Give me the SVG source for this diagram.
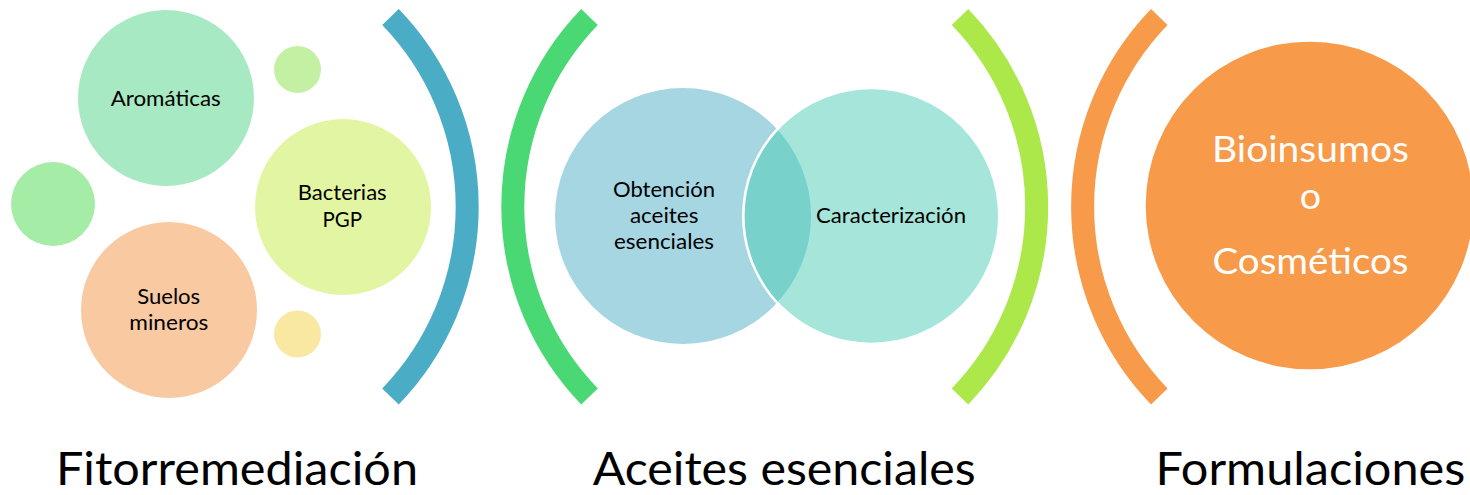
<svg xmlns="http://www.w3.org/2000/svg" width="1470" height="495" viewBox="0 0 1470 495">
  <style>
    .t { font-family: Lato, "Noto Sans", "Liberation Sans", sans-serif; fill: #000000; text-anchor: middle; }
    .s { font-size: 21.6px; }
    .big { font-size: 37.6px; fill: #ffffff; }
    .lbl { font-size: 46px; }
    .br { fill: none; stroke-width: 23; stroke-linecap: butt; }
  </style>
  <rect width="1470" height="495" fill="#ffffff"/>

  <g id="brackets">
    <path class="br" stroke="#4BACC6" d="M390.5,17 A273,273 0 0 1 390.5,396.4"/>
    <path class="br" stroke="#4AD874" d="M589.5,17 A273,273 0 0 0 589.5,396.4"/>
    <path class="br" stroke="#ACE84A" d="M960,17 A273,273 0 0 1 960,396.4"/>
    <path class="br" stroke="#F79A4A" d="M1159.3,17 A273,273 0 0 0 1159.3,396.4"/>
  </g>

  <g id="fitorremediacion">
    <g id="node-aromaticas">
      <circle cx="166" cy="98" r="88" fill="#A6E9C3"/>
      <text class="t s" x="165.7" y="106" textLength="110" lengthAdjust="spacingAndGlyphs">Aromáticas</text>
    </g>
    <g id="node-dot-top">
      <circle cx="297.5" cy="69.5" r="23.5" fill="#C4F0A4"/>
    </g>
    <g id="node-dot-left">
      <circle cx="53" cy="204" r="42" fill="#A5EDA7"/>
    </g>
    <g id="node-bacterias">
      <circle cx="343" cy="207" r="88" fill="#E2F5A2"/>
      <text class="t s" x="342.2" y="200" textLength="89" lengthAdjust="spacingAndGlyphs">Bacterias</text>
      <text class="t s" x="342.2" y="226.7" textLength="39.5" lengthAdjust="spacingAndGlyphs">PGP</text>
    </g>
    <g id="node-suelos">
      <circle cx="169" cy="310" r="88" fill="#F9C9A2"/>
      <text class="t s" x="168.7" y="304" textLength="63" lengthAdjust="spacingAndGlyphs">Suelos</text>
      <text class="t s" x="168.8" y="330" textLength="79" lengthAdjust="spacingAndGlyphs">mineros</text>
    </g>
    <g id="node-dot-bottom">
      <circle cx="297.5" cy="334" r="23.5" fill="#F8E8A2"/>
    </g>
    <g id="label-fitorremediacion">
      <text class="t lbl" x="237" y="485" textLength="362" lengthAdjust="spacingAndGlyphs">Fitorremediación</text>
    </g>
  </g>

  <g id="aceites">
    <g id="node-obtencion">
      <circle cx="683" cy="216" r="128" fill="#A6D6E2"/>
      <text class="t s" x="664" y="196.7" textLength="102" lengthAdjust="spacingAndGlyphs">Obtención</text>
      <text class="t s" x="664.2" y="222.7" textLength="68.5" lengthAdjust="spacingAndGlyphs">aceites</text>
      <text class="t s" x="664" y="249.3" textLength="100" lengthAdjust="spacingAndGlyphs">esenciales</text>
    </g>
    <g id="node-caracterizacion">
      <circle cx="871.3" cy="216" r="128" fill="#4CCBB5" fill-opacity="0.5" stroke="#ffffff" stroke-width="2.6"/>
      <text class="t s" x="891" y="222.7" textLength="150" lengthAdjust="spacingAndGlyphs">Caracterización</text>
    </g>
    <g id="label-aceites">
      <text class="t lbl" x="784.2" y="485" textLength="383" lengthAdjust="spacingAndGlyphs">Aceites esenciales</text>
    </g>
  </g>

  <g id="formulaciones">
    <g id="node-bioinsumos">
      <circle cx="1309.5" cy="205.5" r="163.8" fill="#F79A4A"/>
      <text class="t big" x="1310.5" y="162.3" textLength="197" lengthAdjust="spacingAndGlyphs">Bioinsumos</text>
      <text class="t big" x="1310.5" y="209.3">o</text>
      <text class="t big" x="1310.5" y="274" textLength="196" lengthAdjust="spacingAndGlyphs">Cosméticos</text>
    </g>
    <g id="label-formulaciones">
      <text class="t lbl" x="1310.4" y="485" textLength="310" lengthAdjust="spacingAndGlyphs">Formulaciones</text>
    </g>
  </g>
</svg>
